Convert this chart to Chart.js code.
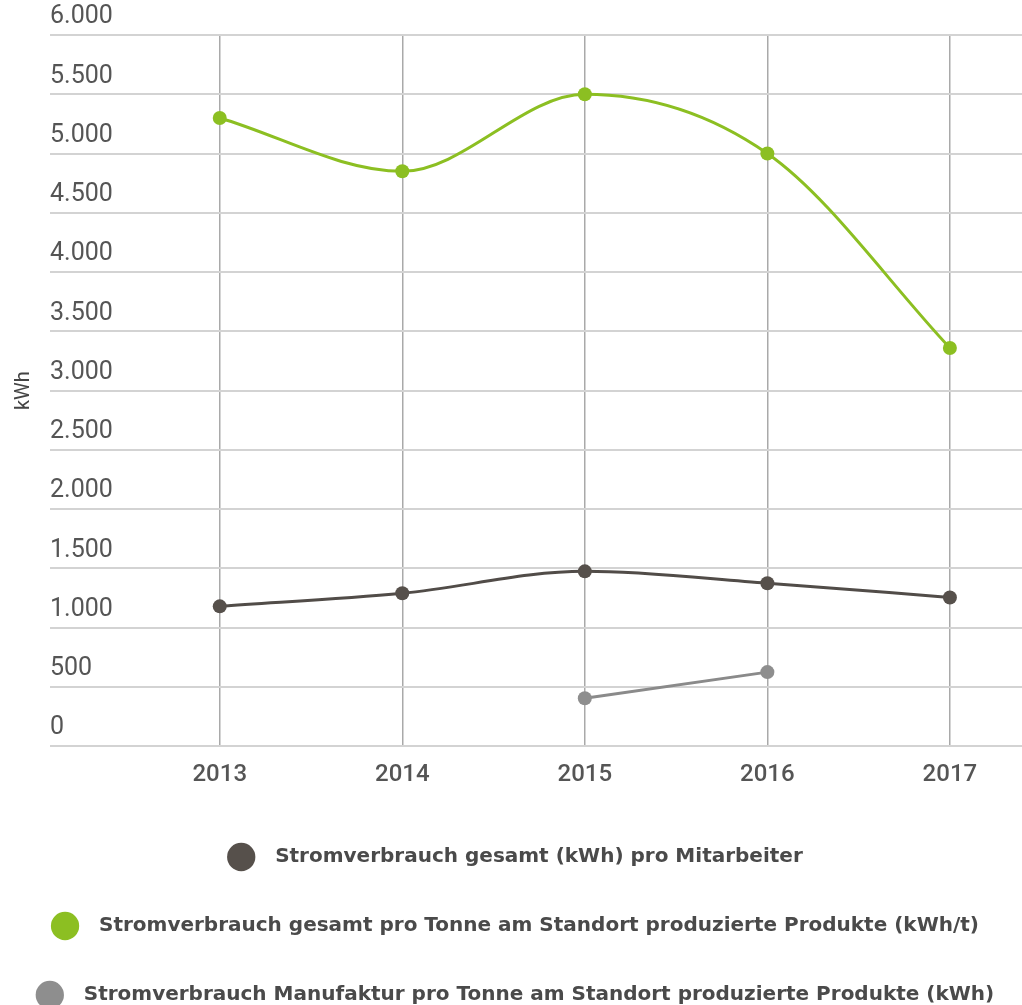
<!DOCTYPE html>
<html>
<head>
<meta charset="utf-8">
<script src="https://cdn.jsdelivr.net/npm/chart.js@4"></script>
<style>
  html, body { margin: 0; padding: 0; background: #fff; overflow: hidden; }
  #wrap { width: 1022px; height: 1005px; }
</style>
</head>
<body>
<div id="wrap"><canvas id="chart"></canvas></div>
<script>
// Stromverbrauch je Jahr
const years = [2013, 2014, 2015, 2016, 2017];
const proMitarbeiter = [1180, 1290, 1475, 1375, 1255];
const proTonne = [5300, 4850, 5500, 5000, 3360];
const manufaktur = [null, null, 405, 625, null];
const yTicks = [0, 500, 1000, 1500, 2000, 2500, 3000, 3500, 4000, 4500, 5000, 5500, 6000];

const seriesNames = [
    'Stromverbrauch gesamt (kWh) pro Mitarbeiter',
    'Stromverbrauch gesamt pro Tonne am Standort produzierte Produkte (kWh/t)',
    'Stromverbrauch Manufaktur pro Tonne am Standort produzierte Produkte (kWh)'
];

function toPoints(values) {
    return years.map((y, i) => ({ x: y, y: values[i] }));
}

function formatDe(v) {
    return String(v).replace(/\B(?=(\d{3})+(?!\d))/g, '.');
}

function lineStyle(line, point) {
    return {
        borderColor: line,
        backgroundColor: point,
        borderWidth: 3,
        pointRadius: 7,
        pointHoverRadius: 7,
        pointBorderWidth: 0,
        cubicInterpolationMode: 'monotone'
    };
}

const ctx = document.getElementById('chart').getContext('2d');

// eslint-disable-next-line no-undef
new Chart(ctx, {
    type: 'line',
    data: {
        datasets: [
            Object.assign({ label: seriesNames[0], data: toPoints(proMitarbeiter) }, lineStyle('#514c48', '#56504b')),
            Object.assign({ label: seriesNames[1], data: toPoints(proTonne) }, lineStyle('#8cbf22', '#8cbf22')),
            Object.assign({ label: seriesNames[2], data: toPoints(manufaktur) }, lineStyle('#8a8a8a', '#8e8e8e'))
        ]
    },
    options: {
        responsive: true,
        maintainAspectRatio: false,
        animation: false,
        layout: {
            autoPadding: false,
            padding: { top: 35, left: 12, right: 0, bottom: -10 }
        },
        scales: {
            x: {
                type: 'linear',
                min: 2012.07,
                max: 2017.395,
                afterBuildTicks(scale) {
                    scale.ticks = years.map(v => ({ value: v }));
                },
                afterFit(scale) {
                    // labels may sit a bit into the legend's top gap
                    scale.height -= 5;
                },
                ticks: {
                    callback: v => String(v),
                    color: '#555',
                    padding: 14,
                    font: { family: 'Roboto', size: 24, weight: '500' }
                },
                grid: {
                    color: '#a9a9a9',
                    lineWidth: 1.5,
                    drawTicks: false
                },
                border: { display: false }
            },
            y: {
                min: 0,
                max: 6000,
                afterBuildTicks(scale) {
                    scale.ticks = yTicks.map(v => ({ value: v }));
                },
                ticks: {
                    mirror: true,
                    padding: 0,
                    labelOffset: -18,
                    color: '#555',
                    callback: v => formatDe(v),
                    font: { family: 'Roboto', size: 25 }
                },
                grid: {
                    color: '#d3d3d3',
                    lineWidth: 2,
                    drawTicks: false
                },
                border: { display: false },
                title: {
                    display: true,
                    text: 'kWh',
                    color: '#444',
                    padding: { top: 0, bottom: 14 },
                    font: { family: 'Roboto', size: 20 }
                }
            }
        },
        plugins: {
            legend: {
                display: true,
                position: 'bottom',
                labels: {
                    usePointStyle: true,
                    pointStyle: 'circle',
                    boxHeight: 20,
                    boxWidth: 20,
                    padding: 49,
                    color: '#4a4a4a',
                    font: { family: 'DejaVu Sans', size: 20, weight: 'bold' },
                    generateLabels(chart) {
                        // eslint-disable-next-line no-undef
                        const items = Chart.defaults.plugins.legend.labels.generateLabels(chart);
                        items.forEach(it => { it.text = '  ' + it.text; });
                        return items;
                    }
                }
            },
            tooltip: { enabled: false }
        }
    }
});
</script>
</body>
</html>
